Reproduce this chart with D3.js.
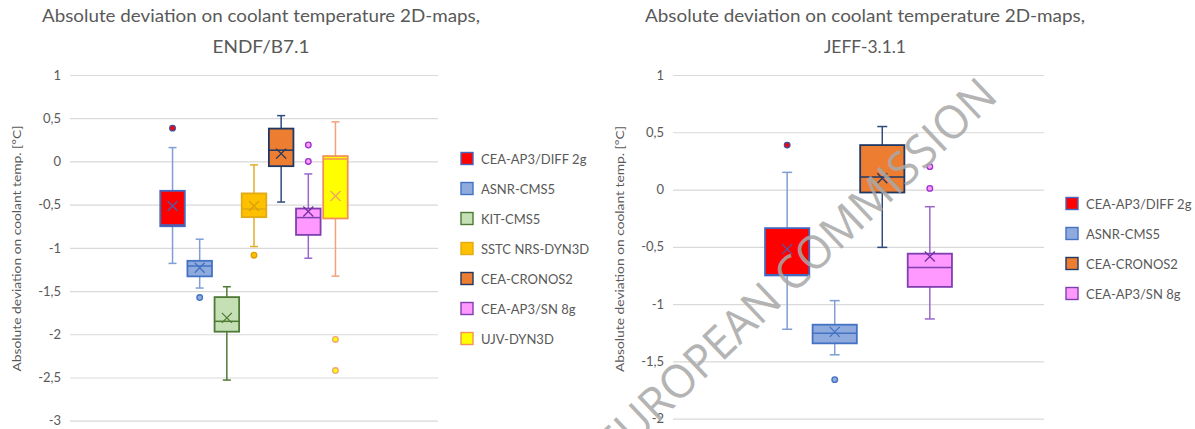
<!DOCTYPE html>
<html>
<head>
<meta charset="utf-8">
<script src="https://cdn.jsdelivr.net/npm/d3@7"></script>
<style>
  html, body { margin: 0; padding: 0; background: #fff; }
  svg { display: block; }
  text { font-family: Lato, "Open Sans", sans-serif; fill: #595959; }
</style>
</head>
<body>
<svg id="chart" width="1195" height="429"></svg>
<script>
// ---- ENDF/B7.1 box statistics (°C) ----
const endfSeries  = ["CEA-AP3/DIFF 2g", "ASNR-CMS5", "KIT-CMS5", "SSTC NRS-DYN3D", "CEA-CRONOS2", "CEA-AP3/SN 8g", "UJV-DYN3D"];
const endfMin     = [-1.18, -1.465, -2.53, -0.985, -0.47, -1.12, -1.327];
const endfQ1      = [-0.75, -1.33, -1.97, -0.645, -0.055, -0.85, -0.66];
const endfMedian  = [-0.735, -1.21, -1.85, -0.55, 0.13, -0.65, 0.028];
const endfQ3      = [-0.34, -1.15, -1.57, -0.37, 0.38, -0.545, 0.062];
const endfMax     = [0.16, -0.90, -1.45, -0.04, 0.53, -0.145, 0.458];
const endfMean    = [-0.515, -1.23, -1.81, -0.515, 0.09, -0.58, -0.40];
const endfOutliers = [[0.385], [-1.575], [], [-1.085], [], [0.19, 0.0], [-2.06, -2.42]];
const endfTicks   = [1, 0.5, 0, -0.5, -1, -1.5, -2, -2.5, -3];
const endfTickLabels = ["1", "0,5", "0", "-0,5", "-1", "-1,5", "-2", "-2,5", "-3"];

// ---- JEFF-3.1.1 box statistics (°C) ----
const jeffSeries  = ["CEA-AP3/DIFF 2g", "ASNR-CMS5", "CEA-CRONOS2", "CEA-AP3/SN 8g"];
const jeffMin     = [-1.22, -1.443, -0.505, -1.13];
const jeffQ1      = [-0.75, -1.343, -0.026, -0.85];
const jeffMedian  = [-0.745, -1.255, 0.11, -0.68];
const jeffQ3      = [-0.337, -1.18, 0.388, -0.56];
const jeffMax     = [0.15, -0.97, 0.55, -0.15];
const jeffMean    = [-0.52, -1.243, 0.098, -0.585];
const jeffOutliers = [[0.388], [-1.66], [], [0.2, 0.01]];
const jeffTicks   = [1, 0.5, 0, -0.5, -1, -1.5, -2];
const jeffTickLabels = ["1", "0,5", "0", "-0,5", "-1", "-1,5", "-2"];

// Series styling: box fill, box border, whisker, mean marker, outlier border
const styles = {
  "CEA-AP3/DIFF 2g": { fill: "#FF0000", stroke: "#4468BF", whisker: "#7F9ED6", mean: "#4A5DB0", dot: "#3F4FA0" },
  "ASNR-CMS5":       { fill: "#8FAADC", stroke: "#4472C4", whisker: "#7F9ED6", mean: "#4472C4", dot: "#4472C4" },
  "KIT-CMS5":        { fill: "#C5E0B4", stroke: "#4E7A35", whisker: "#4E7A35", mean: "#4E7A35", dot: "#4E7A35" },
  "SSTC NRS-DYN3D":  { fill: "#FFC000", stroke: "#E2AA14", whisker: "#E0AE2A", mean: "#D9A000", dot: "#D9A000" },
  "CEA-CRONOS2":     { fill: "#ED7D31", stroke: "#203864", whisker: "#2F4B7C", mean: "#203864", dot: "#203864" },
  "CEA-AP3/SN 8g":   { fill: "#FF99FF", stroke: "#7F3FB0", whisker: "#9966CC", mean: "#7030A0", dot: "#9933CC" },
  "UJV-DYN3D":       { fill: "#FFFF00", stroke: "#F4915A", whisker: "#F4A27A", mean: "#F4A070", dot: "#F4A27A" }
};

const svg = d3.select("#chart");

function drawPanel(cfg) {
  const g = svg.append("g");
  const y = d3.scaleLinear().domain(cfg.yDomain).range([cfg.bottom, cfg.top]);

  // single category group, series spread across it
  const x0 = d3.scaleBand().domain(["all"]).range([cfg.left, cfg.right])
    .paddingInner(cfg.groupPad).paddingOuter(cfg.groupPad);
  const x1 = d3.scaleBand().domain(cfg.series)
    .range([x0("all"), x0("all") + x0.bandwidth()]).paddingInner(cfg.seriesPad).paddingOuter(0);

  // gridlines + tick labels via a left axis
  const axis = d3.axisLeft(y).tickValues(cfg.ticks)
    .tickFormat((d, i) => cfg.tickLabels[i])
    .tickSize(-(cfg.right - cfg.left)).tickPadding(9);
  const ax = g.append("g").attr("transform", `translate(${cfg.left},0)`).call(axis);
  ax.select(".domain").remove();
  ax.selectAll(".tick line").attr("stroke", "#D9D9D9").attr("stroke-width", 1.2);
  ax.selectAll(".tick text").attr("fill", "#595959").style("font-size", "13px")
    .style("font-family", "Lato, 'Open Sans', sans-serif");

  // axis title
  g.append("text")
    .attr("transform", `translate(${cfg.yTitleX},${cfg.yTitleY}) rotate(-90)`)
    .attr("text-anchor", "middle").attr("dominant-baseline", "central")
    .attr("textLength", 246).attr("lengthAdjust", "spacingAndGlyphs")
    .style("font-size", "12px")
    .text("Absolute deviation on coolant temp. [°C]");

  // chart title (two lines)
  g.append("text").attr("x", cfg.titleX).attr("y", 22)
    .attr("text-anchor", "middle").style("font-size", "18px")
    .attr("textLength", cfg.titleLen).attr("lengthAdjust", "spacingAndGlyphs")
    .text("Absolute deviation on coolant temperature 2D-maps,");
  g.append("text").attr("x", cfg.titleX).attr("y", 53)
    .attr("text-anchor", "middle").style("font-size", "18px")
    .attr("textLength", cfg.title2Len).attr("lengthAdjust", "spacingAndGlyphs")
    .text(cfg.title2);

  const bw = x1.bandwidth();
  const cap = cfg.capWidth;

  cfg.series.forEach((name, i) => {
    const s = styles[name];
    const cx = x1(name) + bw / 2;
    const sg = g.append("g");

    // whiskers
    sg.append("line").attr("x1", cx).attr("x2", cx)
      .attr("y1", y(cfg.max[i])).attr("y2", y(cfg.q3[i]))
      .attr("stroke", s.whisker).attr("stroke-width", 1.5);
    sg.append("line").attr("x1", cx).attr("x2", cx)
      .attr("y1", y(cfg.q1[i])).attr("y2", y(cfg.min[i]))
      .attr("stroke", s.whisker).attr("stroke-width", 1.5);
    [cfg.max[i], cfg.min[i]].forEach(v => {
      sg.append("line").attr("x1", cx - cap / 2).attr("x2", cx + cap / 2)
        .attr("y1", y(v)).attr("y2", y(v))
        .attr("stroke", s.whisker).attr("stroke-width", 1.5);
    });

    // box
    sg.append("rect").attr("x", x1(name)).attr("width", bw)
      .attr("y", y(cfg.q3[i])).attr("height", y(cfg.q1[i]) - y(cfg.q3[i]))
      .attr("fill", s.fill).attr("stroke", s.stroke).attr("stroke-width", 1.8);

    // median
    sg.append("line").attr("x1", x1(name)).attr("x2", x1(name) + bw)
      .attr("y1", y(cfg.median[i])).attr("y2", y(cfg.median[i]))
      .attr("stroke", s.stroke).attr("stroke-width", 1.5);

    // mean marker
    const m = y(cfg.mean[i]), r = 5;
    sg.append("path")
      .attr("d", `M${cx - r},${m - r}L${cx + r},${m + r}M${cx - r},${m + r}L${cx + r},${m - r}`)
      .attr("stroke", s.mean).attr("stroke-width", 1.3).attr("fill", "none");

    // outliers
    sg.selectAll("circle.out").data(cfg.outliers[i]).join("circle")
      .attr("class", "out").attr("cx", cx).attr("cy", d => y(d)).attr("r", 2.8)
      .attr("fill", s.fill).attr("stroke", s.dot).attr("stroke-width", 1.3);
  });

  // legend
  const lg = g.append("g");
  cfg.series.forEach((name, i) => {
    const s = styles[name];
    const ly = cfg.legendY + i * 30;
    lg.append("rect").attr("x", cfg.legendX).attr("y", ly - 6).attr("width", 12).attr("height", 12)
      .attr("fill", s.fill).attr("stroke", s.stroke).attr("stroke-width", 1.4);
    lg.append("text").attr("x", cfg.legendX + 20).attr("y", ly)
      .attr("dominant-baseline", "central").style("font-size", "13px")
      .text(name);
  });
}

drawPanel({
  series: endfSeries, min: endfMin, q1: endfQ1, median: endfMedian, q3: endfQ3,
  max: endfMax, mean: endfMean, outliers: endfOutliers,
  ticks: endfTicks, tickLabels: endfTickLabels,
  yDomain: [-3, 1], top: 75, bottom: 420.7, left: 70, right: 438,
  groupPad: 0.325, seriesPad: 0.096, capWidth: 8,
  yTitleX: 16, yTitleY: 248.5,
  titleX: 261, titleLen: 438, title2: "ENDF/B7.1", title2Len: 97,
  legendX: 461, legendY: 158.5
});

drawPanel({
  series: jeffSeries, min: jeffMin, q1: jeffQ1, median: jeffMedian, q3: jeffQ3,
  max: jeffMax, mean: jeffMean, outliers: jeffOutliers,
  ticks: jeffTicks, tickLabels: jeffTickLabels,
  yDomain: [-2, 1], top: 75, bottom: 418.6, left: 673, right: 1044,
  groupPad: 0.33, seriesPad: 0.07, capWidth: 10,
  yTitleX: 619, yTitleY: 249,
  titleX: 865, titleLen: 440, title2: "JEFF-3.1.1", title2Len: 82,
  legendX: 1066, legendY: 203.5
});

// diagonal watermark
svg.append("text")
  .attr("transform", "translate(795,268) rotate(-43.5)")
  .attr("text-anchor", "middle").attr("dominant-baseline", "central")
  .attr("textLength", 530).attr("lengthAdjust", "spacingAndGlyphs")
  .style("font-family", "'Open Sans', sans-serif").style("font-weight", 400)
  .style("font-size", "46px").style("fill", "#a8a8a8").style("opacity", 0.85)
  .text("EUROPEAN COMMISSION");
</script>
</body>
</html>
